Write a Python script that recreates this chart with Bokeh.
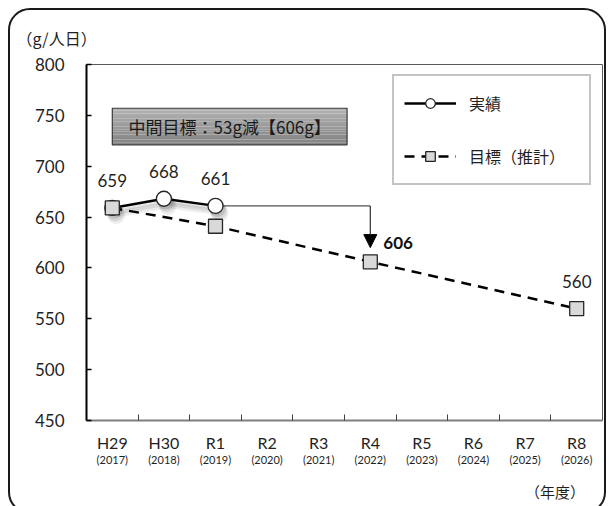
from bokeh.plotting import figure
from bokeh.models import (FixedTicker, LinearAxis, Range1d, Legend, LegendItem,
                          Label, Arrow, NormalHead, Column)
from bokeh.core.properties import value
from bokeh.embed import file_html
from bokeh.resources import INLINE

# ---- data -------------------------------------------------------------
years = ["H29", "H30", "R1", "R2", "R3", "R4", "R5", "R6", "R7", "R8"]
years_ad = ["(2017)", "(2018)", "(2019)", "(2020)", "(2021)",
            "(2022)", "(2023)", "(2024)", "(2025)", "(2026)"]

actual_years = ["H29", "H30", "R1"]
actual = [659, 668, 661]            # 実績 (g/人日)

target_years = ["H29", "R1", "R4", "R8"]
target = [659, 641, 606, 560]       # 目標（推計）

y_ticks = [450, 500, 550, 600, 650, 700, 750, 800]

midterm_year = "R4"
midterm_value = 606
midterm_text = "中間目標：53g減【606g】"
arrow_end = 620

unit_text = "（g/人日）"
period_text = "（年度）"

# ---- styling ----------------------------------------------------------
NUM_FONT = "Lato"
JP_FONT = "Noto Sans CJK JP"
TEXT = "#1f1f1f"

xa = [years.index(y) for y in actual_years]
xt = [years.index(y) for y in target_years]
xm = years.index(midterm_year)

p = figure(width=598, height=506,
           x_range=Range1d(-0.5, len(years) - 0.5),
           y_range=Range1d(y_ticks[0], y_ticks[-1]),
           output_backend="svg", toolbar_location=None,
           min_border_left=76, min_border_right=6,
           min_border_top=54, min_border_bottom=96)
p.background_fill_color = "white"
p.border_fill_alpha = 0
p.outline_line_color = "#595959"
p.outline_line_width = 1
p.xgrid.visible = False
p.ygrid.visible = False
# rounded frame around the whole chart
p.margin = (8, 0, 0, 8)
p.styles = {"border": "2px solid #1a1a1a", "border-radius": "22px",
            "overflow": "hidden"}

# unit caption above the value axis
p.title.text = unit_text
p.title.align = "left"
p.title.vertical_align = "top"
p.title.offset = -70
p.title.standoff = 26
p.title.text_font = JP_FONT
p.title.text_font_size = "16px"
p.title.text_font_style = "normal"
p.title.text_color = TEXT

# y axis: ticks pointing into the frame
yax = p.yaxis[0]
yax.ticker = FixedTicker(ticks=y_ticks)
yax.major_tick_in = 5
yax.major_tick_out = 0
yax.minor_tick_line_color = None
yax.axis_line_color = "black"
yax.axis_line_width = 2
yax.major_tick_line_color = "black"
yax.major_tick_line_width = 1.5
yax.major_label_text_font = NUM_FONT
yax.major_label_text_font_size = "17px"
yax.major_label_text_color = TEXT
yax.major_label_standoff = 22

# x axis: era labels, tick marks between categories
xax = p.xaxis[0]
xax.ticker = FixedTicker(ticks=list(range(len(years))),
                         minor_ticks=[i + 0.5 for i in range(len(years) - 1)])
xax.major_label_overrides = {i: t for i, t in enumerate(years)}
xax.major_tick_in = 0
xax.major_tick_out = 0
xax.minor_tick_in = 6
xax.minor_tick_out = 0
xax.minor_tick_line_color = "#404040"
xax.minor_tick_line_width = 1
xax.axis_line_color = "#7f7f7f"
xax.axis_line_width = 2
xax.major_label_text_font = NUM_FONT
xax.major_label_text_font_size = "16px"
xax.major_label_text_color = TEXT
xax.major_label_standoff = 12


def bare_axis(ticks, labels, size, standoff, font):
    ax = LinearAxis(ticker=FixedTicker(ticks=ticks))
    ax.major_label_overrides = dict(zip(ticks, labels))
    ax.axis_line_color = None
    ax.major_tick_line_color = None
    ax.minor_tick_line_color = None
    ax.major_label_text_font = font
    ax.major_label_text_font_size = size
    ax.major_label_text_color = TEXT
    ax.major_label_standoff = standoff
    return ax


# second row of x labels: western years
p.add_layout(bare_axis(list(range(len(years))), years_ad, "11px", -8,
                       NUM_FONT), "below")
# period caption at the right end
p.add_layout(bare_axis([8.58], [period_text], "15px", 6, JP_FONT), "below")

# ---- mid-term target box ---------------------------------------------
box_l, box_r, box_b, box_t = 0.0, 4.55, 721.0, 757.0
n_strip = 14
for i in range(n_strip):
    g = int(0xb2 - (0xb2 - 0x84) * i / (n_strip - 1))
    y1 = box_t - (box_t - box_b) * i / n_strip
    y0 = box_t - (box_t - box_b) * (i + 1) / n_strip
    p.quad(left=box_l, right=box_r, bottom=y0, top=y1,
           fill_color=f"#{g:02x}{g:02x}{g:02x}", line_color=None)
p.quad(left=box_l, right=box_r, bottom=box_b, top=box_t,
       fill_color=None, line_color="#3a3a3a", line_width=1.2)
p.add_layout(Label(x=(box_l + box_r) / 2, y=(box_b + box_t) / 2,
                   text=midterm_text, text_align="center",
                   text_baseline="middle", text_font=JP_FONT,
                   text_font_size="17px", text_color="#1a1a1a"))

# ---- connector from latest result to the mid-term target ---------------
p.line([xa[-1], xm], [actual[-1], actual[-1]], line_color="#505050",
       line_width=1.3)
p.add_layout(Arrow(end=NormalHead(size=13, fill_color="black",
                                  line_color="black"),
                   x_start=xm, y_start=actual[-1], x_end=xm, y_end=arrow_end,
                   line_color="#303030", line_width=1.2))

# ---- soft shadow under the results series ----------------------------
for k, (dxp, dyp, a) in enumerate([(4, 7, 0.07), (3, 5, 0.09), (2, 3, 0.11)]):
    sx = [x + dxp / 51.6 for x in xa]
    sy = [y - dyp / 1.017 for y in actual]
    p.line(sx, sy, line_color="black", line_alpha=a, line_width=5 - k)
    p.scatter(sx, sy, marker="circle", size=18 - k, fill_color="black",
              fill_alpha=a, line_color=None)

# ---- series ------------------------------------------------------------
line_a = p.line(xa, actual, line_color="black", line_width=2.5)
mark_a = p.scatter(xa, actual, marker="circle", size=15, fill_color="white",
                   line_color="#262626", line_width=1.3)
line_t = p.line(xt, target, line_color="black", line_width=2.5,
                line_dash="10 7")
mark_t = p.scatter(xt, target, marker="square", size=14,
                   fill_color="#d9d9d9", line_color="#262626", line_width=1.3)

# value labels
p.text(x=xa, y=actual, text=[str(v) for v in actual], text_align="center",
       text_baseline="middle", y_offset=-27, text_font=value(NUM_FONT),
       text_font_size="17px", text_color=TEXT)
p.text(x=[xt[-1]], y=[target[-1]], text=[str(target[-1])],
       text_align="center", text_baseline="middle", y_offset=-27,
       text_font=value(NUM_FONT), text_font_size="17px", text_color=TEXT)
p.text(x=[xm], y=[midterm_value], text=[str(midterm_value)],
       text_align="left", text_baseline="middle", x_offset=13, y_offset=-19,
       text_font=value(NUM_FONT), text_font_size="17px",
       text_font_style="bold", text_color="#111111")

# ---- legend ------------------------------------------------------------
legend = Legend(items=[LegendItem(label="実績", renderers=[line_a, mark_a]),
                       LegendItem(label="目標（推計）", renderers=[line_t, mark_t])],
                location=(306, 235), orientation="vertical",
                glyph_width=52, glyph_height=24, label_height=34,
                label_width=110, label_standoff=13, spacing=19,
                padding=10, margin=0,
                label_text_font=JP_FONT, label_text_font_size="16px",
                label_text_color=TEXT,
                border_line_color="#8a8a8a", border_line_width=2,
                background_fill_color="white", background_fill_alpha=1)
p.add_layout(legend, "center")

page = Column(children=[p], width=610, height=506,
              styles={"overflow": "hidden"})

open("out.html", "w").write(file_html(page, INLINE))
